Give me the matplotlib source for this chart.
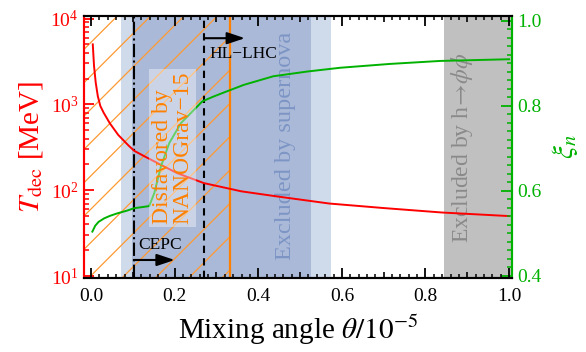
import matplotlib
matplotlib.use('Agg')
import matplotlib.pyplot as plt
from matplotlib.ticker import MultipleLocator, LogLocator, NullFormatter, FixedLocator, FormatStrFormatter
from matplotlib.transforms import blended_transform_factory

# ---------------- data ----------------
theta_T = [0.004, 0.007, 0.011, 0.016, 0.022, 0.030, 0.045, 0.065, 0.090, 0.103,
           0.130, 0.160, 0.206, 0.270, 0.360, 0.450, 0.570, 0.700, 0.840, 1.000]
T_dec = [5000, 2800, 1800, 1250, 960, 800, 600, 440, 330, 288,
         245, 206, 158, 121, 97, 84, 70, 62, 55, 50]

theta_xi = [0.003, 0.010, 0.018, 0.031, 0.045, 0.063, 0.085, 0.103, 0.125, 0.139,
            0.151, 0.167, 0.187, 0.215, 0.246, 0.266, 0.292, 0.318, 0.366, 0.436,
            0.516, 0.596, 0.715, 0.835, 1.000]
xi_n = [0.504, 0.518, 0.527, 0.535, 0.541, 0.547, 0.553, 0.559, 0.562, 0.564,
        0.594, 0.657, 0.712, 0.759, 0.790, 0.810, 0.821, 0.831, 0.849, 0.869,
        0.880, 0.889, 0.898, 0.905, 0.909]

# constraint bands / lines (in units of 1e-5)
supernova_outer = [0.072, 0.573]
supernova_inner = [0.098, 0.526]
higgs_band = [0.845, 1.05]
nanograv_edge = 1 / 3
cepc_line = 0.102
hllhc_line = 0.270

x_labeled = [0.0, 0.2, 0.4, 0.6, 0.8, 1.0]
x_mid = [0.1, 0.3, 0.5, 0.7, 0.9]
x_minor = [i / 50 for i in range(0, 51) if i % 5 != 0]
xi_ticks = [0.4, 0.6, 0.8, 1.0]

# ---------------- style ----------------
plt.rcParams['font.family'] = 'serif'
plt.rcParams['font.serif'] = ['Liberation Serif', 'DejaVu Serif']
plt.rcParams['mathtext.fontset'] = 'stix'
plt.rcParams['hatch.linewidth'] = 0.9

RED = '#ff0000'
GREEN = '#00b200'
ORANGE = '#ff8000'

fig = plt.figure(figsize=(5.86, 3.52), dpi=100)
ax = fig.add_axes([84 / 586, 1 - 278 / 352, (512 - 84) / 586, (278 - 16) / 352])
ax2 = ax.twinx()

xlim = (-0.017, 1.007)
ax.set_xlim(*xlim)
ax.set_yscale('log')
ax.set_ylim(9.5, 1.07e4)
ax2.set_ylim(0.395, 1.0106)

# bands
ax.axvspan(supernova_outer[0], supernova_outer[1], color='#cfdaea', lw=0, zorder=0.2)
ax.axvspan(supernova_inner[0], supernova_inner[1], color='#aab9d7', lw=0, zorder=0.3)
ax.axvspan(higgs_band[0], higgs_band[1], color='#c0c0c0', lw=0, zorder=0.3)
ax.axvspan(xlim[0] - 0.05, nanograv_edge, facecolor='none', edgecolor='#ff9933',
           hatch='/', lw=0, zorder=0.5)
ax.axvline(nanograv_edge, color=ORANGE, lw=1.6, zorder=1)
ax.axvline(cepc_line, color='k', lw=1.5, ls='-.', zorder=1)
ax.axvline(hllhc_line, color='k', lw=1.5, ls=(0, (3.5, 2.5)), zorder=1)

# texts
ax.text(0.466, 327, 'Excluded by supernova', rotation=90, ha='center', va='center',
        color='#7d95c5', fontsize=17.5, zorder=1.2)
ax.text(0.887, 316, r'Excluded by h$\!\rightarrow\!\phi\phi$', rotation=90, ha='center',
        va='center', color='#8a8a8a', fontsize=17, zorder=1.2)

# arrows
ax.annotate('', xy=(0.200, 15.4), xytext=(cepc_line, 15.4),
            arrowprops=dict(arrowstyle='-|>,head_length=0.6,head_width=0.2', color='k',
                            lw=1.5, mutation_scale=18, shrinkA=0, shrinkB=0), zorder=3)
ax.text(0.164, 23, 'CEPC', ha='center', va='center', fontsize=12.5)
ax.annotate('', xy=(0.368, 5900), xytext=(hllhc_line, 5900),
            arrowprops=dict(arrowstyle='-|>,head_length=0.6,head_width=0.2', color='k',
                            lw=1.5, mutation_scale=18, shrinkA=0, shrinkB=0), zorder=3)
ax.text(0.364, 3860, 'HL\u2212LHC', ha='center', va='center', fontsize=12.5)

# curves
ax.plot(theta_T, T_dec, color=RED, lw=1.4, zorder=2.5)
ax2.plot(theta_xi, xi_n, color=GREEN, lw=1.4, zorder=2)

# NANOGrav text with translucent box (on ax2 so it covers both curves)
ax2.text(0.195, 310, 'Disfavored by\nNANOGrav\u221215', transform=ax.transData,
         rotation=90, ha='center', va='center', multialignment='left',
         color=ORANGE, fontsize=17, linespacing=1.0, zorder=3,
         bbox=dict(facecolor='white', alpha=0.4, edgecolor='none', pad=2))

# x ticks drawn as short segments on bottom and top edges (0.2 / 0.1 / 0.02 levels)
ax.xaxis.set_major_locator(FixedLocator(x_labeled))
ax.xaxis.set_minor_locator(FixedLocator([]))
ax.xaxis.set_major_formatter(FormatStrFormatter('%.1f'))
ax.tick_params(axis='x', which='major', direction='in', length=0,
               labelsize=14, pad=7)
trans = blended_transform_factory(ax.transData, ax.transAxes)
axh_px = 262.0
for xs, ln_px, lw in ((x_labeled, 10, 1.3), (x_mid, 6, 1.2), (x_minor, 4, 1.1)):
    f = ln_px / axh_px
    ax2.vlines(xs, 0, f, colors='k', lw=lw, transform=trans, clip_on=False, zorder=6)
    ax2.vlines(xs, 1 - f, 1, colors='k', lw=lw, transform=trans, clip_on=False, zorder=6)

ax.yaxis.set_major_locator(LogLocator(base=10, numticks=10))
ax.yaxis.set_minor_locator(LogLocator(base=10, subs=range(2, 10), numticks=20))
ax.yaxis.set_minor_formatter(NullFormatter())
ax.tick_params(axis='y', which='major', direction='in', length=7.5, width=1.3,
               colors=RED, labelsize=14, pad=4, left=True, right=False)
ax.tick_params(axis='y', which='minor', direction='in', length=3.5, width=1.1,
               colors=RED, left=True, right=False)

ax2.yaxis.set_major_locator(FixedLocator(xi_ticks))
ax2.yaxis.set_minor_locator(MultipleLocator(0.02))
ax2.yaxis.set_major_formatter(FormatStrFormatter('%.1f'))
ax2.tick_params(axis='y', which='major', direction='in', length=8, width=1.3,
                colors=GREEN, labelsize=14, pad=4)
ax2.tick_params(axis='y', which='minor', direction='in', length=3.5, width=1.1,
                colors=GREEN)

for a in (ax, ax2):
    for s in a.spines.values():
        s.set_linewidth(1.5)
    a.spines['left'].set_color(RED)
    a.spines['right'].set_color(GREEN)

ax.set_xlabel(r'Mixing angle $\theta/10^{-5}$', fontsize=21, labelpad=6)
ax.set_ylabel(r'$T_{\rm dec}$ [MeV]', fontsize=21, color=RED, labelpad=4)
ax2.set_ylabel(r'$\xi_n$', fontsize=21, color=GREEN, labelpad=6)

fig.savefig('out.png', dpi=100)
